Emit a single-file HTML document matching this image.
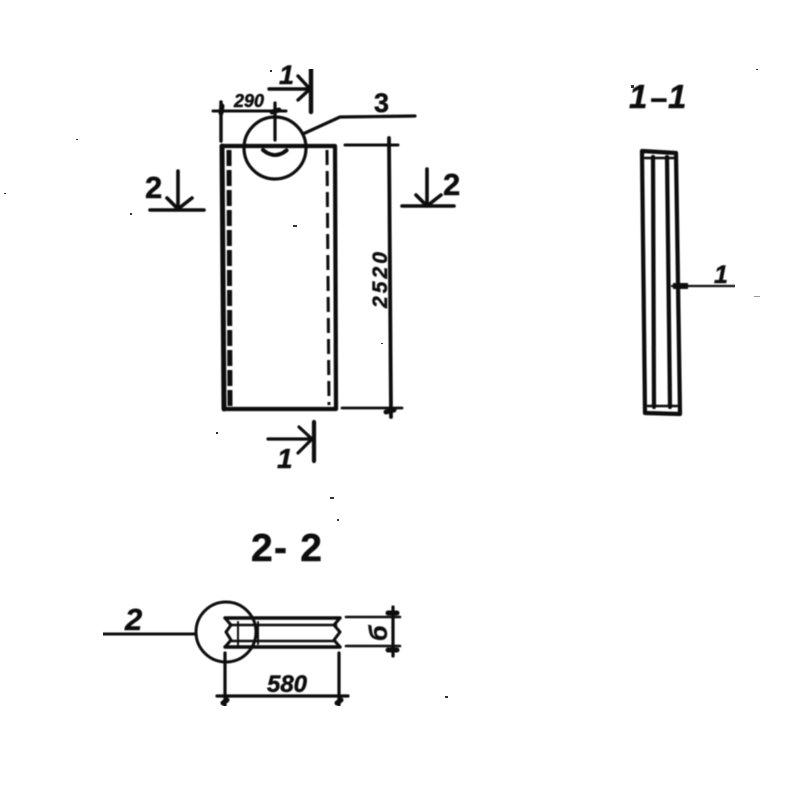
<!DOCTYPE html>
<html><head><meta charset="utf-8"><style>
html,body{margin:0;padding:0;background:#fff}
svg{display:block}
text{font-family:"Liberation Sans",sans-serif;font-weight:bold;fill:#111;stroke:#111;stroke-width:.5}
</style></head><body>
<svg width="800" height="800" viewBox="0 0 800 800" xmlns="http://www.w3.org/2000/svg">
<rect width="800" height="800" fill="#fff"/>
<defs><filter id="b" x="0" y="0" width="100%" height="100%"><feGaussianBlur stdDeviation="0.55"/></filter></defs>
<g filter="url(#b)" fill="none" stroke="#0a0a0a" stroke-linecap="round" stroke-linejoin="round">
<!-- main panel -->
<path d="M222 146L335 146L336 409L224 409Z" stroke-width="4.2"/>
<path d="M222 146L224 409" stroke-width="5"/>
<path d="M229 150L230 408" stroke-width="5" stroke-dasharray="16 4" stroke-linecap="butt"/>
<path d="M327 150L329 405" stroke-width="3" stroke-dasharray="15 6" stroke-linecap="butt"/>
<circle cx="275" cy="148" r="31" stroke-width="3.2"/>
<path d="M263 150Q275 160 287 150" stroke-width="4" stroke-dasharray="5 2"/>
<path d="M305 133L340 117L415 116" stroke-width="3.2"/>
<!-- 290 dim -->
<path d="M213 111L286 111" stroke-width="3"/>
<path d="M221 102L221 141" stroke-width="3.4"/>
<path d="M275 103L275 140" stroke-width="3.2"/>
<!-- section 1 top -->
<path d="M311 69L311 112" stroke-width="4.4"/>
<path d="M269 89L311 89M298 76L310 89L298 100" stroke-width="3.4"/>
<!-- section 1 bottom -->
<path d="M314 422L314 461" stroke-width="4.2"/>
<path d="M268 439L313 439M299 427L312 439L298 453" stroke-width="3.2"/>
<!-- section 2 left/right -->
<path d="M178 171L178 209M150 210L204 210M167 198L178 209L192 198" stroke-width="3.6"/>
<path d="M427 169L427 206M402 206L454 206M416 195L427 206L441 195" stroke-width="3.6"/>
<!-- 2520 dim -->
<path d="M345 145L398 145" stroke-width="3"/>
<path d="M342 408L402 408" stroke-width="2.8"/>
<path d="M389 138L391 417" stroke-width="3.8"/>
<!-- view 1-1 -->
<path d="M642 151L676 153L680 414L645 413Z" stroke-width="4.2"/>
<path d="M653 157L654 407M667 157L670 407" stroke-width="4.2"/>
<path d="M645 158L674 158M648 406L677 406" stroke-width="2.4"/>
<path d="M672 286L735 286" stroke-width="2.2"/>
<path d="M673 286L688 286" stroke-width="6" stroke-linecap="butt"/>
<!-- section 2-2 -->
<path d="M225 618L340 618M225 647L340 647" stroke-width="3.4"/>
<path d="M225 618L231 625L226 632L231 640L225 647M340 618L334 625L340 632L334 640L340 647" stroke-width="3"/>
<path d="M230 625L336 625M231 641L335 641" stroke-width="2.6"/>
<path d="M238 622L238 645M258 622L258 644" stroke-width="2"/>
<circle cx="226" cy="632" r="30" stroke-width="3"/>
<path d="M103 634L196 634" stroke-width="3"/>
<!-- dims -->
<path d="M346 617L400 617M346 646L400 646" stroke-width="2.6"/>
<path d="M393 607L393 656" stroke-width="3.2"/>
<path d="M225 653L225 706M339 653L339 705" stroke-width="3.2"/>
<path d="M217 696L348 696" stroke-width="3.2"/>
<g stroke-width="5">
<path d="M223 703L227 700M337 703L341 700M388 650L397 650M388 613L397 613M386 412L394 410M221 113L222 106M272 112L279 110"/>
</g>
</g>
<g filter="url(#b)">
<text x="279" y="84" font-size="27" font-style="italic">1</text>
<text x="234" y="107" font-size="18" font-style="italic">290</text>
<text x="374" y="112" font-size="27">3</text>
<text x="145" y="198" font-size="31">2</text>
<text x="443" y="195" font-size="31">2</text>
<text x="277" y="468" font-size="28" font-style="italic">1</text>
<text transform="translate(387,308) rotate(-90)" font-size="21" font-style="italic" textLength="56">2520</text>
<text x="629" y="108" font-size="33" font-style="italic">1</text>
<text x="650" y="110" font-size="30">−</text>
<text x="668" y="108" font-size="33" font-style="italic">1</text>
<text x="714" y="283" font-size="25" font-style="italic">1</text>
<text x="251" y="561" font-size="39" font-weight="normal" textLength="71">2- 2</text>
<text x="125" y="630" font-size="31" font-style="italic">2</text>
<text transform="translate(387,641) rotate(-90)" font-size="25" font-style="italic">б</text>
<text x="267" y="692" font-size="24" font-style="italic" textLength="40">580</text>
</g>
<g fill="#333">
<rect x="293" y="225" width="4" height="2"/><rect x="330" y="497" width="4" height="2"/><rect x="337" y="519" width="2" height="2"/><rect x="445" y="696" width="3" height="2"/><rect x="216" y="432" width="2" height="2"/><rect x="754" y="296" width="6" height="1" fill="#999"/><rect x="130" y="213" width="2" height="2"/><rect x="4" y="193" width="2" height="1"/><rect x="76" y="139" width="2" height="1"/><rect x="270" y="70" width="2" height="2"/><rect x="756" y="69" width="2" height="1"/><rect x="381" y="343" width="2" height="1"/><rect x="631" y="85" width="3" height="3"/>
</g>
</svg>
</body></html>
